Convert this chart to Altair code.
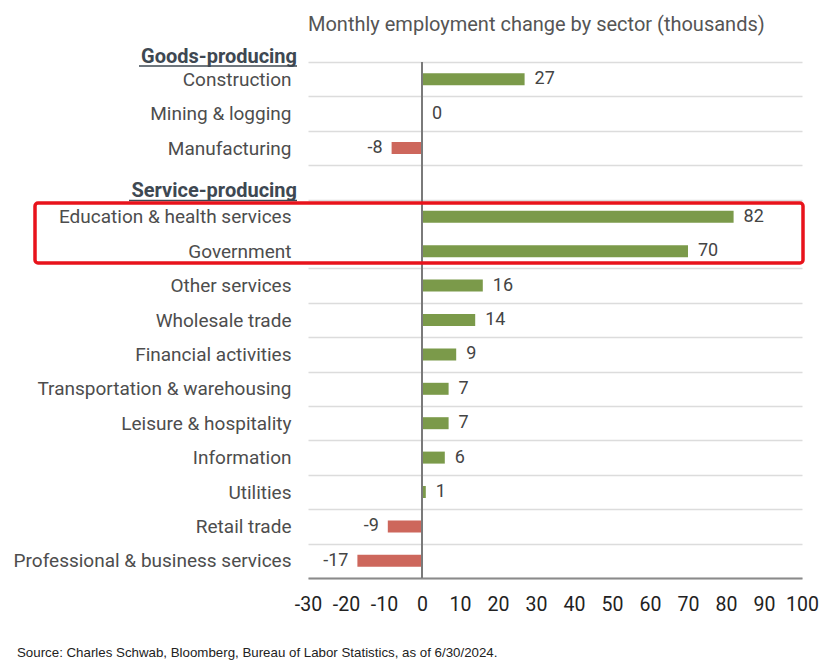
import altair as alt
import pandas as pd

# ---- data ----
categories = [
    "Construction", "Mining & logging", "Manufacturing",
    "Service-producing",
    "Education & health services", "Government", "Other services",
    "Wholesale trade", "Financial activities", "Transportation & warehousing",
    "Leisure & hospitality", "Information", "Utilities", "Retail trade",
    "Professional & business services",
]
sectors = [
    "Construction", "Mining & logging", "Manufacturing",
    "Education & health services", "Government", "Other services",
    "Wholesale trade", "Financial activities", "Transportation & warehousing",
    "Leisure & hospitality", "Information", "Utilities", "Retail trade",
    "Professional & business services",
]
values = [27, 0, -8, 82, 70, 16, 14, 9, 7, 7, 6, 1, -9, -17]
x_ticks = list(range(-30, 101, 10))

title_text = "Monthly employment change by sector (thousands)"
source_text = "Source: Charles Schwab, Bloomberg, Bureau of Labor Statistics, as of 6/30/2024."

df = pd.DataFrame({"sector": sectors, "value": values})
df["label"] = df["value"].astype(str)

FONT = "Roboto"
W, H = 494, 516

xscale = alt.Scale(domain=[-30, 100], nice=False, zero=False)
yscale = alt.Scale(domain=categories, paddingInner=0, paddingOuter=0)

x_axis = alt.Axis(values=x_ticks, grid=False, ticks=False, domainColor="#8a8a8a",
                  domainWidth=2, labelFontSize=19.5, labelColor="#222222",
                  labelPadding=17, title=None, labelFont=FONT, labelFlush=False,
                  labelOverlap=False, labelExpr="'' + datum.value")
y_axis = alt.Axis(title=None, ticks=False, domain=False, labelPadding=17,
                  labelFontSize=19, labelColor="#4d4d4d", labelFont=FONT,
                  labelLimit=400,
                  labelExpr="datum.value == 'Service-producing' ? '' : datum.value",
                  grid=True, tickBand="extent", gridWidth=1.5,
                  gridColor={"condition": {"test": "datum.value == 'Education & health services'",
                                           "value": "transparent"},
                             "value": "#dcdcdc"})

base = alt.Chart(df)
X = alt.X("value:Q", scale=xscale, axis=x_axis)
Y = alt.Y("sector:N", scale=yscale, axis=y_axis, sort=categories)

bars = base.mark_bar(size=12).encode(
    x=X, y=Y,
    color=alt.condition("datum.value < 0", alt.value("#cd675c"), alt.value("#7b9a4a")),
)

pos_labels = base.transform_filter("datum.value >= 0").mark_text(
    align="left", baseline="middle", dx=10, fontSize=18, font=FONT, color="#444444"
).encode(x=X, y=Y, text="label:N")

neg_labels = base.transform_filter("datum.value < 0").mark_text(
    align="right", baseline="middle", dx=-9, fontSize=18, font=FONT, color="#444444"
).encode(x=X, y=Y, text="label:N")

zero_line = alt.Chart(pd.DataFrame({"value": [0]})).mark_rule(color="#7a7a7a", strokeWidth=2).encode(
    x=X
)

# headers
service_hdr = alt.Chart(pd.DataFrame({"sector": ["Service-producing"]})).mark_text(
    align="right", baseline="middle", fontSize=20, fontWeight="bold", font=FONT,
    color="#3e4852", yOffset=9
).encode(x=alt.value(-11), y=Y, text="sector:N")

goods_hdr = alt.Chart(pd.DataFrame({"h": ["Goods-producing"]})).mark_text(
    align="right", baseline="middle", fontSize=20, fontWeight="bold", font=FONT,
    color="#3e4852"
).encode(x=alt.value(-11), y=alt.value(-5.5), text="h:N")

ul_goods = alt.Chart(pd.DataFrame({"a": [0]})).mark_rule(color="#3e4852", strokeWidth=1.5).encode(
    x=alt.value(-169), x2=alt.value(-11), y=alt.value(4))
ul_service = alt.Chart(pd.DataFrame({"a": [0]})).mark_rule(color="#3e4852", strokeWidth=1.5).encode(
    x=alt.value(-179), x2=alt.value(-11), y=alt.value(138.5))

highlight = alt.Chart(pd.DataFrame({"a": [0]})).mark_rect(
    fill="transparent", stroke="#e8131b", strokeWidth=3.5, cornerRadius=3
).encode(x=alt.value(-273), x2=alt.value(495), y=alt.value(141), y2=alt.value(201))

title = alt.Chart(pd.DataFrame({"t": [title_text]})).mark_text(
    align="left", baseline="alphabetic", fontSize=20, font=FONT, color="#555555"
).encode(x=alt.value(0), y=alt.value(-31), text="t:N")

source = alt.Chart(pd.DataFrame({"t": [source_text]})).mark_text(
    align="left", baseline="middle", fontSize=13.3, font="Liberation Sans", color="#222222"
).encode(x=alt.value(-291), y=alt.value(591), text="t:N")

chart = alt.layer(
    bars, zero_line, pos_labels, neg_labels, service_hdr, goods_hdr,
    ul_goods, ul_service, highlight, title, source
).properties(
    width=W, height=H,
    autosize=alt.AutoSizeParams(type="none"),
    padding={"left": 300, "top": 54, "right": 20, "bottom": 86},
).configure_view(stroke=None)

chart.save("out.html", embed_options={"renderer": "svg", "actions": False})
